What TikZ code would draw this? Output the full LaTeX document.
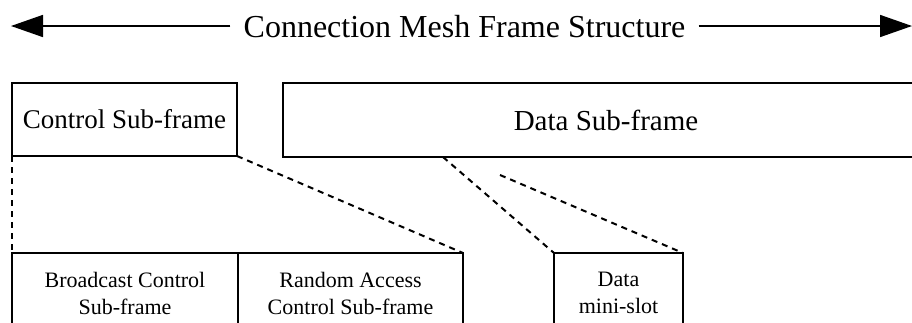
\documentclass[tikz,border=0pt]{standalone}
\usepackage{fontspec}
\setmainfont{Liberation Serif}
\usetikzlibrary{arrows.meta}
\begin{document}
\begin{tikzpicture}[x=1pt,y=-1pt,
  box/.style={draw, line width=2pt, inner sep=0pt, outer sep=0pt, anchor=north west, align=center},
  dashline/.style={line width=2pt, dash pattern=on 6pt off 5pt},
  frame/.style={line width=1.6pt, -{Triangle[length=32pt,width=22pt]}}]
\useasboundingbox (0,0) rectangle (912,322);
\clip (0,0) rectangle (912,322);
\node[inner sep=0pt, font=\fontsize{32}{36}\selectfont] (title) at (464.5,27) {Connection Mesh Frame Structure};
\coordinate (la) at (11,26);
\coordinate (ra) at (912,26);
\draw[frame] (title.west) ++(-13,-1) coordinate (tl) (tl) -- (la);
\draw[frame] (title.east) ++(13,-1) coordinate (tr) (tr) -- (ra);
\node[box, minimum width=225, minimum height=73, font=\fontsize{27}{30}\selectfont] (cs) at (12,83) {Control Sub-frame};
\node[box, minimum width=646, minimum height=74, font=\fontsize{29}{32}\selectfont] (ds) at (283,83) {Data Sub-frame};
\node[box, minimum width=226, minimum height=80, font=\fontsize{22}{27}\selectfont] (bc) at (12,253) {Broadcast Control\\Sub-frame};
\node[box, minimum width=225, minimum height=80, font=\fontsize{22}{27}\selectfont] (rc) at (238,253) {Random Access\\Control Sub-frame};
\node[box, minimum width=129, minimum height=80, font=\fontsize{22}{27}\selectfont] (ms) at (554,253) {Data\\mini-slot};
\coordinate (d1) at (443,157);
\coordinate (d2) at (500,175);
\draw[dashline] (cs.south west) -- (bc.north west);
\draw[dashline] (cs.south east) -- (rc.north east);
\draw[dashline] (d1) -- (ms.north west);
\draw[dashline] (d2) -- (ms.north east);
\end{tikzpicture}
\end{document}
